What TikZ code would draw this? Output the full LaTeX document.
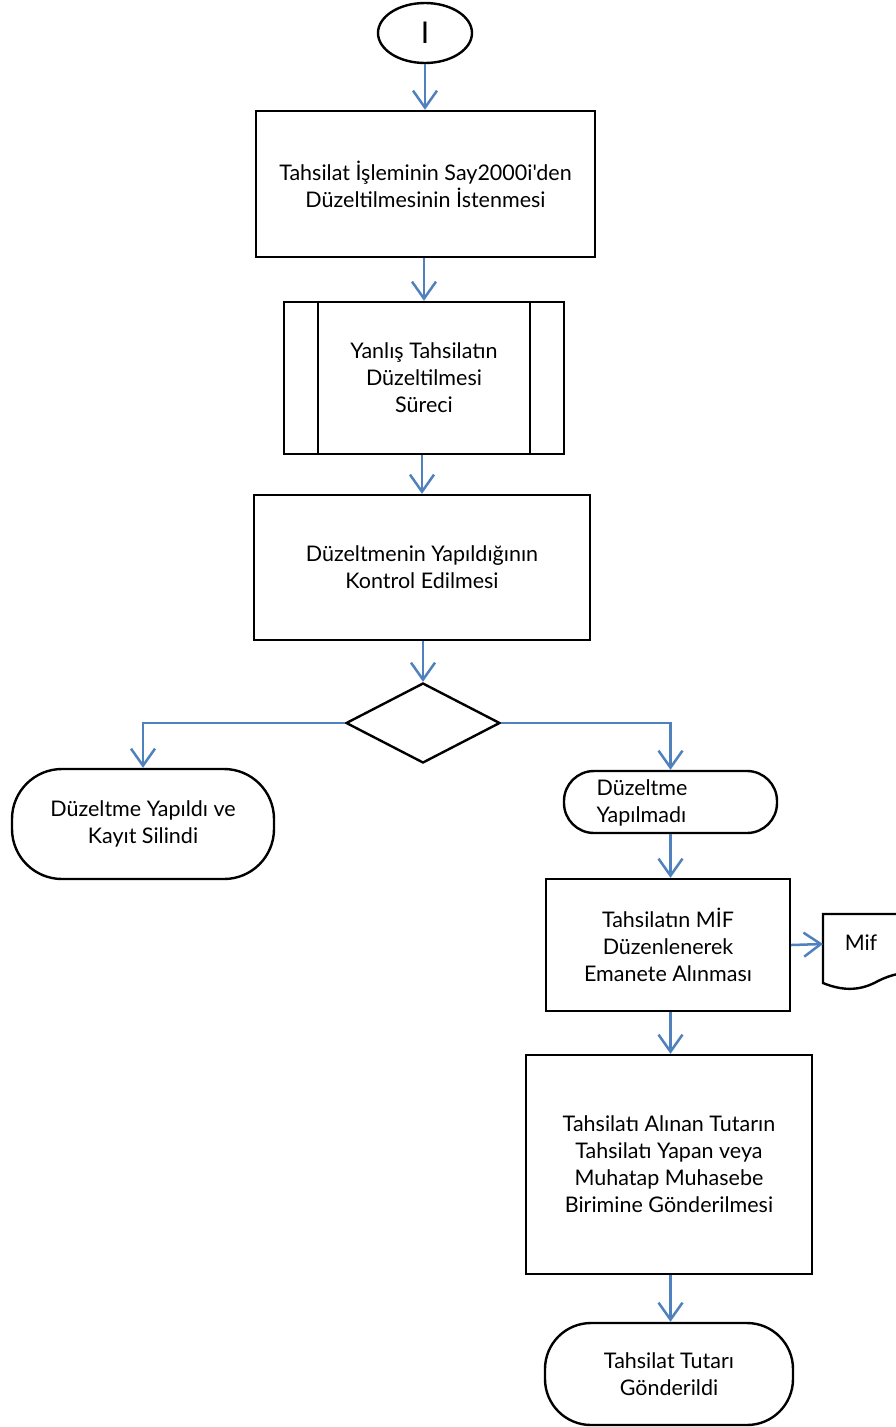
\documentclass[tikz,border=0pt]{standalone}
\usepackage{fontspec}
\setmainfont{Lato}[Ligatures=TeXOff]
\usetikzlibrary{arrows.meta,shapes.geometric}
\definecolor{arrblue}{RGB}{79,129,189}
\newcommand{\fsz}{\fontsize{21.5}{27}\selectfont}
\tikzset{
  shp/.style={draw=black, line width=2.4pt, align=center, inner sep=0pt, font=\fsz},
  boxnode/.style={shp, rectangle},
  term/.style={shp, rectangle},
  arr/.style={draw=arrblue, line width=2.5pt, -{Straight Barb[length=17pt,width=24pt]}},
}
\begin{document}
\begin{tikzpicture}[x=1pt,y=-1pt]
\useasboundingbox (0,0) rectangle (896,1427);
\clip (0,0) rectangle (896,1427);
% nodes
\node[shp, ellipse, minimum width=94pt, minimum height=60pt, font=\fontsize{30}{32}\selectfont] (s) at (425,33) {I};
\node[boxnode, minimum width=339pt, minimum height=146pt] (b1) at (425.5,184) {Tahsilat İşleminin Say2000i'den\\Düzeltilmesinin İstenmesi};
\node[boxnode, minimum width=280pt, minimum height=152pt] (b2) at (424,378) {Yanlış Tahsilatın\\Düzeltilmesi\\Süreci};
\draw[line width=2.4pt] ([xshift=35pt]b2.north west) -- ([xshift=35pt]b2.south west);
\draw[line width=2.4pt] ([xshift=-35pt]b2.north east) -- ([xshift=-35pt]b2.south east);
\node[boxnode, minimum width=336pt, minimum height=145pt] (b3) at (422,567.5) {Düzeltmenin Yapıldığının\\Kontrol Edilmesi};
\node[shp, diamond, minimum width=154pt, minimum height=80pt] (d) at (423,723) {};
\node[term, rounded corners=50pt, minimum width=262pt, minimum height=110pt] (l) at (143,824) {Düzeltme Yapıldı ve\\Kayıt Silindi};
\node[term, rounded corners=30pt, minimum width=213pt, minimum height=62pt] (r1) at (670.5,802) {};
\node[align=left, inner sep=0pt, font=\fsz] (r1t) at (642,803) {Düzeltme\\Yapılmadı};
\node[boxnode, minimum width=244pt, minimum height=132pt] (m) at (668,945) {Tahsilatın MİF\\Düzenlenerek\\Emanete Alınması};
\node[inner sep=0pt, font=\fsz] (mif) at (861,943) {Mif};
\draw[line width=2.4pt] (940,914) -- (823,914) coordinate (mifnw) -- (823,983)
  .. controls (845,992) and (862,990) .. (878,981) .. controls (890,975) and (905,970) .. (940,972);
\coordinate (mifw) at (823,944);
\node[boxnode, minimum width=286pt, minimum height=219pt] (t) at (669,1164.5) {Tahsilatı Alınan Tutarın\\Tahsilatı Yapan veya\\Muhatap Muhasebe\\Birimine Gönderilmesi};
\node[term, rounded corners=46pt, minimum width=248pt, minimum height=102pt] (e) at (669,1374) {Tahsilat Tutarı\\Gönderildi};
% connectors
\draw[arr] (s.south) -- (b1.north -| s.south);
\draw[arr] (b1.south -| b2.north) -- (b2.north);
\draw[arr] (b2.south -| b3.north) -- (b3.north);
\draw[arr] (b3.south -| d.north) -- (d.north);
\draw[arr] (d.west) -| (l.north);
\draw[arr] (d.east) -| (r1.north);
\draw[arr] (r1.south) -- (m.north -| r1.south);
\draw[arr] (m.east) -- (mifw);
\draw[arr] (m.south -| r1.south) -- (t.north -| r1.south);
\draw[arr] (t.south -| r1.south) -- (e.north -| r1.south);
\end{tikzpicture}
\end{document}
